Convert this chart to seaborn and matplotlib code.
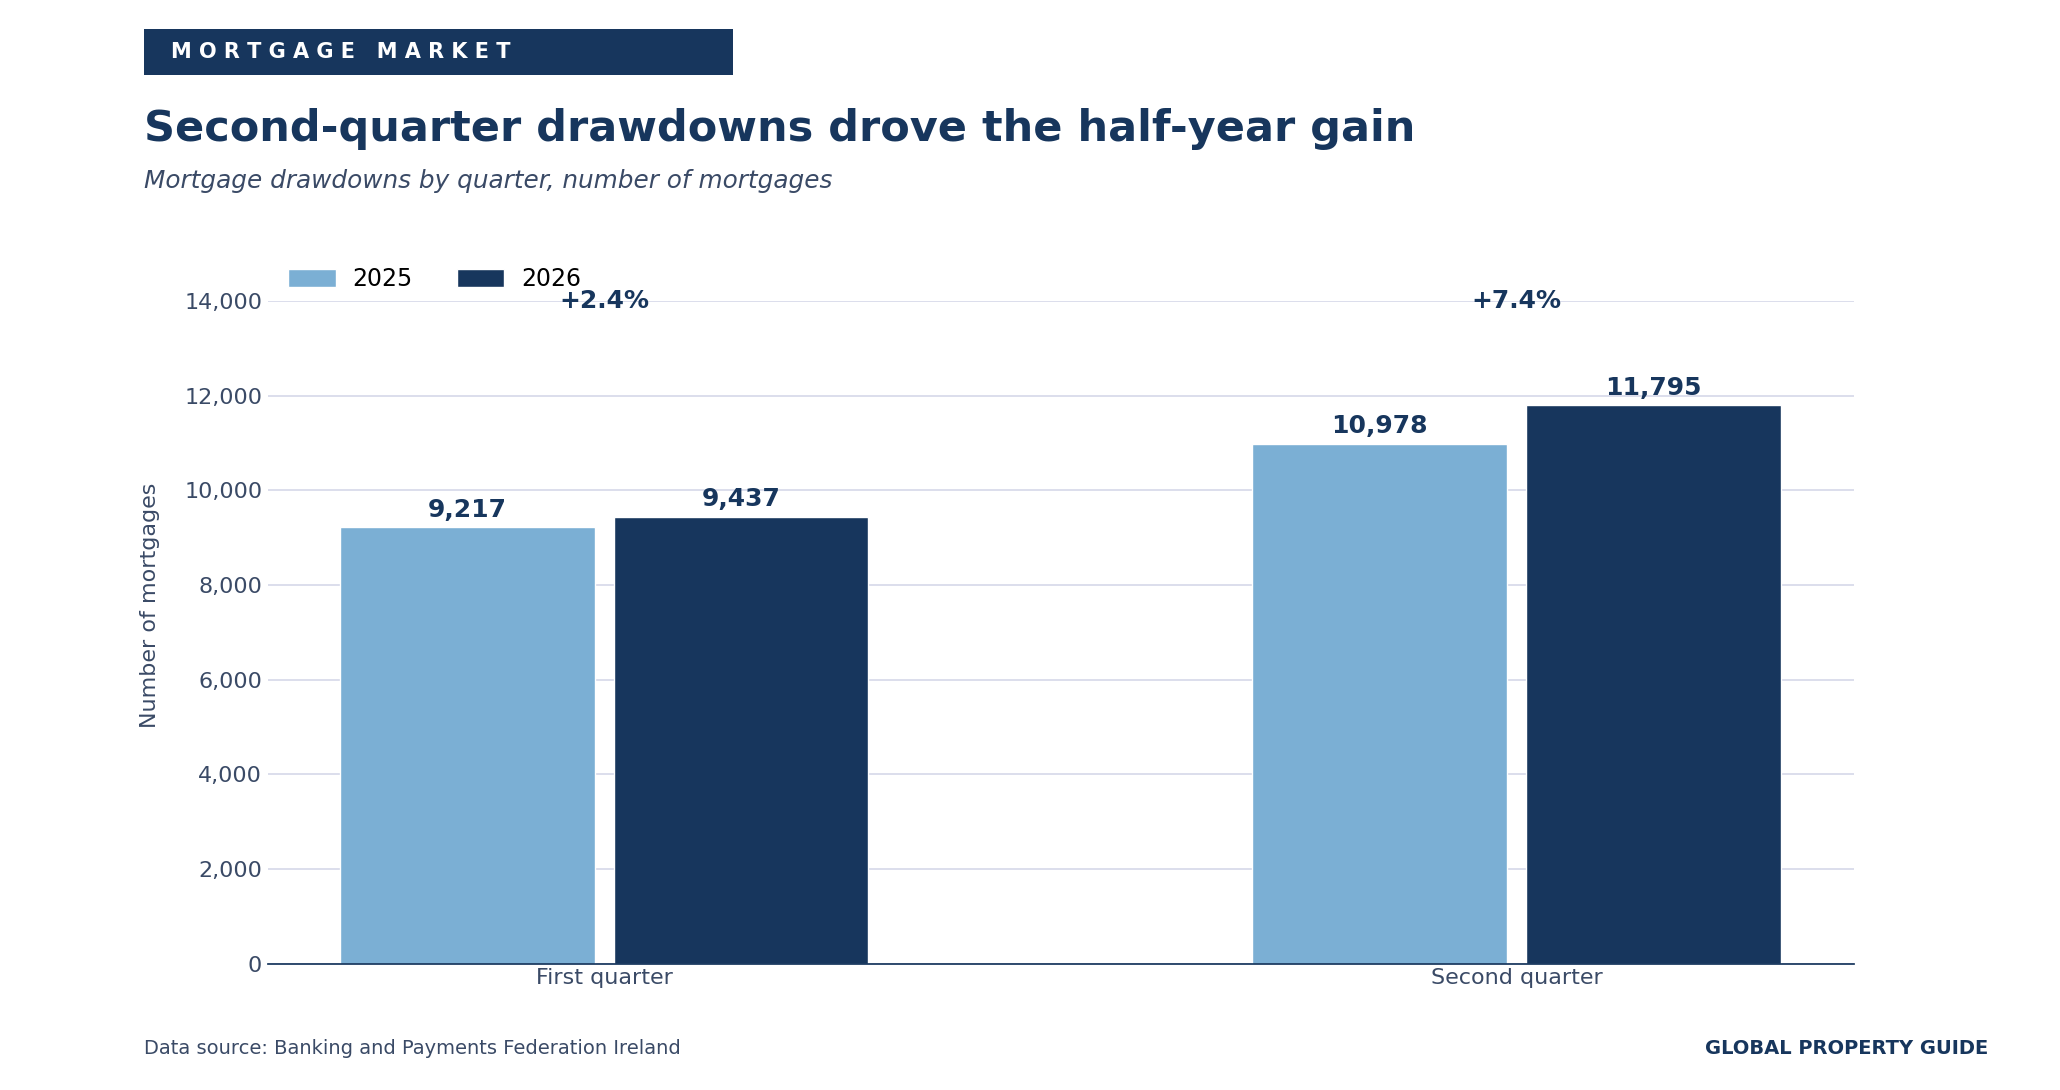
import pandas as pd
import matplotlib.pyplot as plt
import seaborn as sns
from matplotlib.patches import Rectangle

quarters = ["First quarter", "Second quarter"]
years = ["2025", "2026"]
values_2025 = [9217, 10978]
values_2026 = [9437, 11795]
changes = ["+2.4%", "+7.4%"]

navy = "#17365d"
light = "#7bafd4"
slate = "#3a4a66"

df = pd.DataFrame({
    "quarter": quarters * 2,
    "year": [years[0]] * 2 + [years[1]] * 2,
    "value": values_2025 + values_2026,
})

sns.set_theme(style="white")
plt.rcParams["font.family"] = ["DejaVu Sans"]

fig = plt.figure(figsize=(20.6, 10.9), dpi=100)
ax = fig.add_axes([0.130, 0.116, 0.770, 0.608])

sns.barplot(data=df, x="quarter", y="value", hue="year", palette=[light, navy],
            width=0.6, gap=0.07, saturation=1, ax=ax)

ax.set_ylim(0, 14000)
ax.set_xlim(-0.369, 1.37)
ax.set_yticks(range(0, 14001, 2000))
ax.set_yticklabels([f"{v:,}" for v in range(0, 14001, 2000)])
ax.grid(axis="y", color="#d9dbeb", linewidth=1.3)
ax.set_axisbelow(True)
for s in ["top", "right", "left"]:
    ax.spines[s].set_visible(False)
ax.spines["bottom"].set_color(navy)
ax.tick_params(axis="both", labelsize=16, colors=slate, length=0)
ax.tick_params(axis="y", pad=4)
ax.set_xlabel("")
ax.set_ylabel("Number of mortgages", fontsize=16, color=slate)
ax.yaxis.set_label_coords(-0.068, 0.54)

for cont in ax.containers:
    ax.bar_label(cont, labels=[f"{v:,.0f}" for v in cont.datavalues], padding=4,
                 fontsize=18, fontweight="bold", color=navy)

for i, ch in enumerate(changes):
    ax.text(i, 14000, ch, ha="center", va="center", fontsize=18,
            fontweight="bold", color=navy, clip_on=False)

leg = ax.legend(loc="lower left", bbox_to_anchor=(0.007, 1.0), ncol=2, frameon=False,
                fontsize=17, handlelength=2.0, handleheight=0.8, columnspacing=1.9,
                handletextpad=0.7, borderaxespad=0)
for t in leg.get_texts():
    t.set_color("black")

fig.patches.append(Rectangle((0.070, 0.931), 0.286, 0.042, transform=fig.transFigure,
                             facecolor=navy, edgecolor="none"))
fig.text(0.083, 0.952, "M O R T G A G E   M A R K E T", color="white", fontsize=15,
         fontweight="bold", va="center")
fig.text(0.070, 0.882, "Second-quarter drawdowns drove the half-year gain", fontsize=31,
         fontweight="bold", color=navy, va="center")
fig.text(0.070, 0.834, "Mortgage drawdowns by quarter, number of mortgages", fontsize=17.8,
         style="italic", color=slate, va="center")
fig.text(0.070, 0.038, "Data source: Banking and Payments Federation Ireland", fontsize=14,
         color=slate, va="center")
fig.text(0.965, 0.038, "GLOBAL PROPERTY GUIDE", fontsize=14, fontweight="bold",
         color=navy, va="center", ha="right")

fig.savefig("out.png", dpi=100)
